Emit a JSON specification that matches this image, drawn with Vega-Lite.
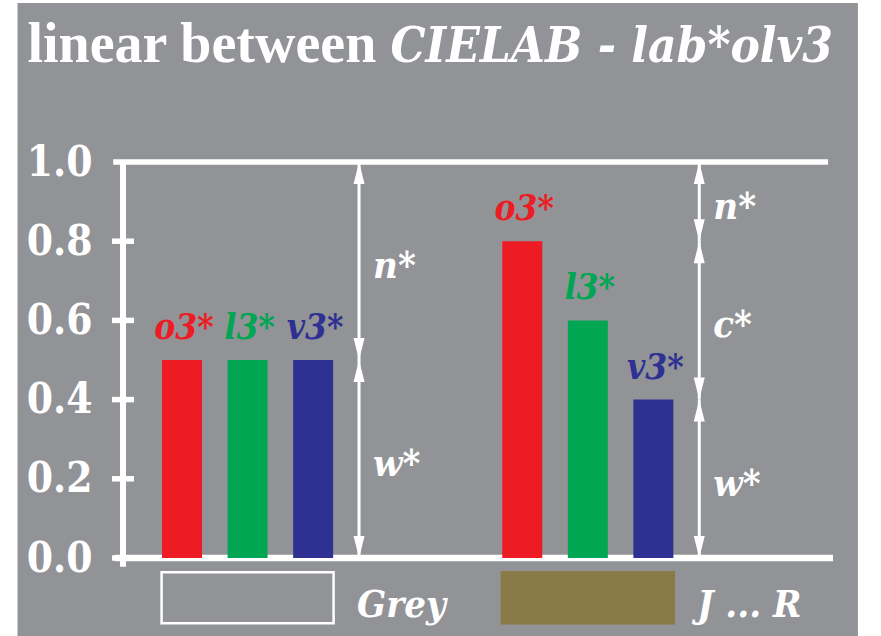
{
  "$schema": "https://vega.github.io/schema/vega-lite/v6.json",
  "autosize": {"type": "none"},
  "width": 718,
  "height": 396,
  "padding": {"left": 120, "top": 162, "right": 43, "bottom": 78},
  "background": "white",
  "config": {"view": {"stroke": null}},
  "datasets": {
    "bars": [
      {"group": "Grey", "comp": "o3*", "slot": 1, "value": 0.5},
      {"group": "Grey", "comp": "l3*", "slot": 2, "value": 0.5},
      {"group": "Grey", "comp": "v3*", "slot": 3, "value": 0.5},
      {"group": "J ... R", "comp": "o3*", "slot": 6.19, "value": 0.8},
      {"group": "J ... R", "comp": "l3*", "slot": 7.19, "value": 0.6},
      {"group": "J ... R", "comp": "v3*", "slot": 8.19, "value": 0.4}
    ],
    "segments": [
      {"group": "Grey", "slot": 3.7, "from": 0, "to": 0.5, "label": "w*"},
      {"group": "Grey", "slot": 3.7, "from": 0.5, "to": 1.0, "label": "n*"},
      {"group": "J ... R", "slot": 8.89, "from": 0, "to": 0.4, "label": "w*"},
      {"group": "J ... R", "slot": 8.89, "from": 0.4, "to": 0.8, "label": "c*"},
      {"group": "J ... R", "slot": 8.89, "from": 0.8, "to": 1.0, "label": "n*"}
    ],
    "ticks": [{"v": 0}, {"v": 0.2}, {"v": 0.4}, {"v": 0.6}, {"v": 0.8}]
  },
  "layer": [
    {
      "data": {"values": [{}]},
      "mark": {"type": "rect", "fill": "#929397"},
      "encoding": {
        "x": {"datum": -1.51, "type": "quantitative", "scale": {"domain": [0.13, 10.93], "nice": false, "zero": false}, "axis": null},
        "x2": {"datum": 11.31},
        "y": {"datum": 1.4015, "type": "quantitative", "scale": {"domain": [0, 1], "nice": false},
          "axis": {"values": [0, 0.2, 0.4, 0.6, 0.8, 1.0], "format": ".1f", "title": null, "domain": false, "ticks": false, "grid": false, "zindex": 2, "labelFont": "DejaVu Serif Condensed", "labelFontWeight": "bold", "labelFontSize": 42, "labelColor": "white", "labelPadding": 28, "labelFlush": false}},
        "y2": {"datum": -0.197}
      }
    },
    {
      "data": {"values": [{}]},
      "mark": {"type": "text", "text": "linear between", "font": "Liberation Serif", "align": "left", "baseline": "alphabetic", "fontSize": 56, "fontWeight": "bold", "color": "white"},
      "encoding": {"x": {"datum": -1.359, "type": "quantitative"}, "y": {"datum": 1.252, "type": "quantitative"}}
    },
    {
      "data": {"values": [{}]},
      "mark": {"type": "text", "text": "CIELAB - lab*olv3", "font": "DejaVu Serif Condensed", "align": "left", "baseline": "alphabetic", "fontSize": 49, "fontWeight": "bold", "fontStyle": "italic", "color": "white"},
      "encoding": {"x": {"datum": 4.18, "type": "quantitative"}, "y": {"datum": 1.252, "type": "quantitative"}}
    },
    {
      "data": {"values": [{}]},
      "mark": {"type": "rule", "color": "white", "strokeWidth": 5.5},
      "encoding": {"x": {"datum": -0.05, "type": "quantitative"}, "x2": {"datum": 10.855}, "y": {"datum": 1, "type": "quantitative"}}
    },
    {
      "data": {"values": [{}]},
      "mark": {"type": "rule", "color": "white", "strokeWidth": 6.5},
      "encoding": {"x": {"datum": -0.02, "type": "quantitative"}, "x2": {"datum": 10.93}, "y": {"datum": 0, "type": "quantitative"}}
    },
    {
      "data": {"values": [{}]},
      "mark": {"type": "rule", "color": "white", "strokeWidth": 6},
      "encoding": {"x": {"datum": 0.1, "type": "quantitative"}, "y": {"datum": -0.022, "type": "quantitative"}, "y2": {"datum": 1}}
    },
    {
      "data": {"name": "ticks"},
      "mark": {"type": "tick", "orient": "horizontal", "color": "white", "size": 22, "thickness": 5.5, "opacity": 1},
      "encoding": {
        "x": {"datum": 0.1, "type": "quantitative"},
        "y": {"field": "v", "type": "quantitative"}
      }
    },
    {
      "data": {"name": "bars"},
      "mark": {"type": "bar", "size": 40},
      "encoding": {
        "x": {"field": "slot", "type": "quantitative"},
        "y": {"field": "value", "type": "quantitative"},
        "y2": {"datum": 0},
        "color": {"field": "comp", "type": "nominal", "scale": {"domain": ["o3*", "l3*", "v3*"], "range": ["#ed1c24", "#00a651", "#2e3192"]}, "legend": null}
      }
    },
    {
      "data": {"name": "bars"},
      "mark": {"type": "text", "font": "DejaVu Serif Condensed", "align": "center", "baseline": "alphabetic", "dy": -21, "dx": 2, "fontSize": 35, "fontWeight": "bold", "fontStyle": "italic"},
      "encoding": {
        "x": {"field": "slot", "type": "quantitative"},
        "y": {"field": "value", "type": "quantitative"},
        "text": {"field": "comp"},
        "color": {"field": "comp", "type": "nominal", "legend": null}
      }
    },
    {
      "data": {"name": "segments"},
      "mark": {"type": "rule", "color": "white", "strokeWidth": 3},
      "encoding": {
        "x": {"field": "slot", "type": "quantitative"},
        "y": {"field": "from", "type": "quantitative"},
        "y2": {"field": "to"}
      }
    },
    {
      "data": {"name": "segments"},
      "mark": {"type": "point", "shape": "M0,0L0.25,1L-0.25,1Z", "size": 1936, "filled": true, "fill": "white", "opacity": 1, "strokeWidth": 0},
      "encoding": {
        "x": {"field": "slot", "type": "quantitative"},
        "y": {"field": "to", "type": "quantitative"}
      }
    },
    {
      "data": {"name": "segments"},
      "mark": {"type": "point", "shape": "M0,0L0.25,-1L-0.25,-1Z", "size": 1936, "filled": true, "fill": "white", "opacity": 1, "strokeWidth": 0},
      "encoding": {
        "x": {"field": "slot", "type": "quantitative"},
        "y": {"field": "from", "type": "quantitative"}
      }
    },
    {
      "data": {"name": "segments"},
      "transform": [{"calculate": "(datum.from + datum.to) / 2", "as": "mid"}],
      "mark": {"type": "text", "font": "DejaVu Serif Condensed", "align": "left", "baseline": "alphabetic", "dx": 14, "dy": 17, "fontSize": 38, "fontWeight": "bold", "fontStyle": "italic", "color": "white"},
      "encoding": {
        "x": {"field": "slot", "type": "quantitative"},
        "y": {"field": "mid", "type": "quantitative"},
        "text": {"field": "label"}
      }
    },
    {
      "data": {"name": "bars"},
      "transform": [{"aggregate": [{"op": "mean", "field": "slot", "as": "center"}], "groupby": ["group"]}],
      "mark": {"type": "bar", "size": 172, "strokeWidth": 2.5},
      "encoding": {
        "x": {"field": "center", "type": "quantitative"},
        "y": {"datum": -0.036, "type": "quantitative"},
        "y2": {"datum": -0.165},
        "fill": {"field": "group", "type": "nominal", "scale": {"domain": ["Grey", "J ... R"], "range": ["#929397", "#8a7a47"]}, "legend": null},
        "stroke": {"field": "group", "type": "nominal", "scale": {"domain": ["Grey", "J ... R"], "range": ["white", "#8a7a47"]}, "legend": null}
      }
    },
    {
      "data": {"name": "segments"},
      "transform": [{"aggregate": [{"op": "max", "field": "slot", "as": "slot"}], "groupby": ["group"]}],
      "mark": {"type": "text", "font": "DejaVu Serif Condensed", "align": "left", "baseline": "alphabetic", "dx": -2, "dy": 2, "fontSize": 38, "fontWeight": "bold", "fontStyle": "italic", "color": "white"},
      "encoding": {
        "x": {"field": "slot", "type": "quantitative"},
        "y": {"datum": -0.143, "type": "quantitative"},
        "text": {"field": "group"}
      }
    }
  ]
}
